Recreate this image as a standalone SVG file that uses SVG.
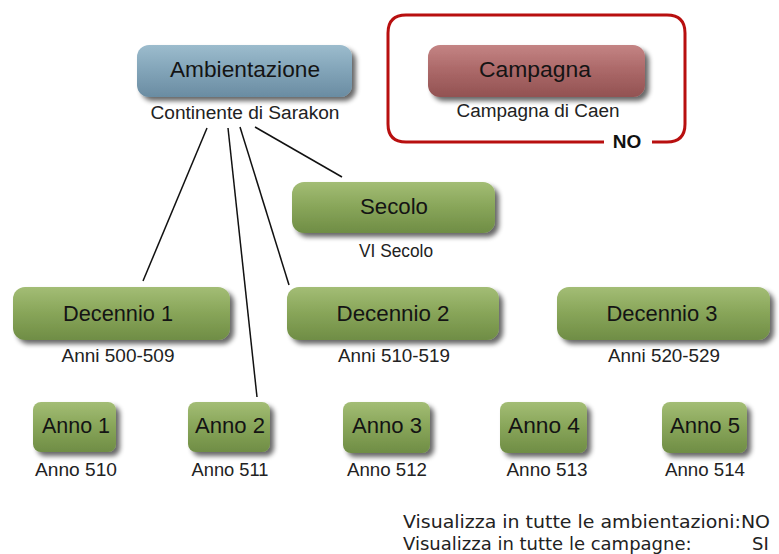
<svg xmlns="http://www.w3.org/2000/svg" width="779" height="554" viewBox="0 0 779 554">
<defs>
<linearGradient id="gG" x1="0" y1="0" x2="0" y2="1">
<stop offset="0" stop-color="#a3bd75"/>
<stop offset="0.45" stop-color="#8aa75b"/>
<stop offset="1" stop-color="#6f8d45"/>
</linearGradient>
<linearGradient id="gB" x1="0" y1="0" x2="0" y2="1">
<stop offset="0" stop-color="#9cbccd"/>
<stop offset="0.45" stop-color="#84a6ba"/>
<stop offset="1" stop-color="#6a8ca2"/>
</linearGradient>
<linearGradient id="gR" x1="0" y1="0" x2="0" y2="1">
<stop offset="0" stop-color="#c48484"/>
<stop offset="0.45" stop-color="#ad6a6a"/>
<stop offset="1" stop-color="#925252"/>
</linearGradient>
<filter id="sh" x="-10%" y="-20%" width="125%" height="150%">
<feGaussianBlur in="SourceAlpha" stdDeviation="2.5"/>
<feOffset dx="4" dy="4" result="o"/>
<feComponentTransfer><feFuncA type="linear" slope="0.6"/></feComponentTransfer>
<feMerge><feMergeNode/><feMergeNode in="SourceGraphic"/></feMerge>
</filter>
</defs>
<style>
.g{fill:url(#gG);filter:url(#sh)}
.b{fill:url(#gB);filter:url(#sh)}
.r{fill:url(#gR);filter:url(#sh)}
.t{font-family:"Liberation Sans",Arial,sans-serif;font-size:22px;fill:#141414;text-anchor:middle}
.s{font-family:"Liberation Sans",Arial,sans-serif;font-size:18px;fill:#222;text-anchor:middle}
.v{font-family:"DejaVu Sans",Verdana,sans-serif;font-size:18px;fill:#222}
.c line{stroke:#111;stroke-width:1.5}
</style>
<rect width="779" height="554" fill="#ffffff"/>
<g class="c" id="connectors">
<line x1="207" y1="128" x2="143" y2="281"/>
<line x1="228" y1="128" x2="257" y2="397"/>
<line x1="240" y1="127" x2="289" y2="285"/>
<line x1="255" y1="127" x2="342" y2="177"/>
</g>
<g id="frame">
<path d="M604 142 H406 Q388 142 388 124 V33 Q388 15 406 15 H667 Q685 15 685 33 V124 Q685 142 667 142 H652" fill="none" stroke="#b80f0f" stroke-width="3"/>
<text x="627" y="148" font-family="Liberation Sans,Arial,sans-serif" font-weight="bold" font-size="19" fill="#111" text-anchor="middle">NO</text>
</g>
<g id="ambientazione">
<rect class="b" x="137" y="45" width="215" height="52" rx="12"/>
<text class="t" x="245" y="77" textLength="150" lengthAdjust="spacingAndGlyphs">Ambientazione</text>
<text class="s" x="245" y="119" textLength="189" lengthAdjust="spacingAndGlyphs">Continente di Sarakon</text>
</g>
<g id="campagna">
<rect class="r" x="428" y="45" width="217" height="52" rx="12"/>
<text class="t" x="535" y="77" textLength="112" lengthAdjust="spacingAndGlyphs">Campagna</text>
<text class="s" x="538" y="117" textLength="163" lengthAdjust="spacingAndGlyphs">Campagna di Caen</text>
</g>
<g id="secolo">
<rect class="g" x="292" y="182" width="203" height="51" rx="12"/>
<text class="t" x="394" y="214" textLength="68" lengthAdjust="spacingAndGlyphs">Secolo</text>
<text class="s" x="396" y="257" textLength="74" lengthAdjust="spacingAndGlyphs">VI Secolo</text>
</g>
<g id="decennio1">
<rect class="g" x="13" y="287" width="217" height="53" rx="12"/>
<text class="t" x="118" y="321" textLength="110" lengthAdjust="spacingAndGlyphs">Decennio 1</text>
<text class="s" x="118" y="362" textLength="113" lengthAdjust="spacingAndGlyphs">Anni 500-509</text>
</g>
<g id="decennio2">
<rect class="g" x="287" y="287" width="212" height="53" rx="12"/>
<text class="t" x="393" y="321" textLength="113" lengthAdjust="spacingAndGlyphs">Decennio 2</text>
<text class="s" x="394" y="362" textLength="112" lengthAdjust="spacingAndGlyphs">Anni 510-519</text>
</g>
<g id="decennio3">
<rect class="g" x="557" y="287" width="213" height="53" rx="12"/>
<text class="t" x="662" y="321" textLength="111" lengthAdjust="spacingAndGlyphs">Decennio 3</text>
<text class="s" x="664" y="362" textLength="112" lengthAdjust="spacingAndGlyphs">Anni 520-529</text>
</g>
<g id="anno1">
<rect class="g" x="33" y="402" width="83" height="50" rx="8"/>
<text class="t" x="76" y="433" textLength="68" lengthAdjust="spacingAndGlyphs">Anno 1</text>
<text class="s" x="76" y="476" textLength="82" lengthAdjust="spacingAndGlyphs">Anno 510</text>
</g>
<g id="anno2">
<rect class="g" x="188" y="402" width="82" height="50" rx="8"/>
<text class="t" x="230" y="433" textLength="70" lengthAdjust="spacingAndGlyphs">Anno 2</text>
<text class="s" x="230" y="476" textLength="77" lengthAdjust="spacingAndGlyphs">Anno 511</text>
</g>
<g id="anno3">
<rect class="g" x="343" y="402" width="87" height="51" rx="8"/>
<text class="t" x="387" y="433" textLength="70" lengthAdjust="spacingAndGlyphs">Anno 3</text>
<text class="s" x="387" y="476" textLength="80" lengthAdjust="spacingAndGlyphs">Anno 512</text>
</g>
<g id="anno4">
<rect class="g" x="500" y="402" width="87" height="51" rx="8"/>
<text class="t" x="544" y="433" textLength="72" lengthAdjust="spacingAndGlyphs">Anno 4</text>
<text class="s" x="547" y="476" textLength="81" lengthAdjust="spacingAndGlyphs">Anno 513</text>
</g>
<g id="anno5">
<rect class="g" x="662" y="402" width="85" height="51" rx="8"/>
<text class="t" x="705" y="433" textLength="70" lengthAdjust="spacingAndGlyphs">Anno 5</text>
<text class="s" x="705" y="476" textLength="80" lengthAdjust="spacingAndGlyphs">Anno 514</text>
</g>
<g id="legend">
<text class="v" x="403" y="528" textLength="367" lengthAdjust="spacingAndGlyphs">Visualizza in tutte le ambientazioni:NO</text>
<text class="v" x="403" y="550">Visualizza in tutte le campagne:</text>
<text class="v" x="752" y="550">SI</text>
</g>
</svg>
